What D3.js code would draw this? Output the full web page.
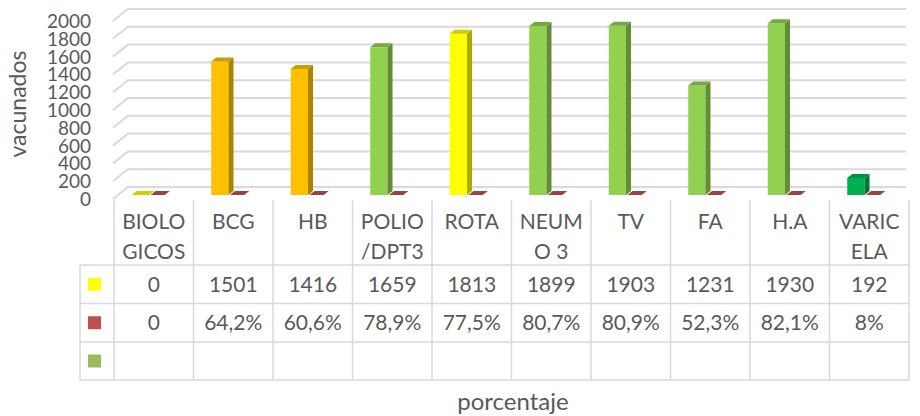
<!DOCTYPE html>
<html>
<head>
<meta charset="utf-8">
<script src="https://cdn.jsdelivr.net/npm/d3@7"></script>
<style>
  body { margin: 0; background: #fff; }
  svg { display: block; font-family: Lato, "Open Sans", sans-serif; }
</style>
</head>
<body>
<svg width="920" height="416"></svg>
<script>
// data
const categories = ['BIOLOGICOS', 'BCG', 'HB', 'POLIO/DPT3', 'ROTA', 'NEUMO 3', 'TV', 'FA', 'H.A', 'VARICELA'];
const headerLines = [['BIOLO', 'GICOS'], ['BCG'], ['HB'], ['POLIO', '/DPT3'], ['ROTA'], ['NEUM', 'O 3'], ['TV'], ['FA'], ['H.A'], ['VARIC', 'ELA']];
const vacunados = [0, 1501, 1416, 1659, 1813, 1899, 1903, 1231, 1930, 192];
const porcentaje = [0, 64.2, 60.6, 78.9, 77.5, 80.7, 80.9, 52.3, 82.1, 8];
const yTicks = [0, 200, 400, 600, 800, 1000, 1200, 1400, 1600, 1800, 2000];
const barColors = ['#FFFF00', '#FFC000', '#FFC000', '#92D050', '#FFFF00', '#92D050', '#92D050', '#92D050', '#92D050', '#00B050'];
const seriesKeys = ['vac', 'pct', 'empty'];
const keyColors = ['#FFFF00', '#C0504D', '#9BBB59'];

const svg = d3.select('svg');
const textColor = '#595959';
const gridColor = '#d9d9d9';

// layout
const tableLeft = 80, cellLeft = 114, tableRight = 909;
const rowY = [200, 265, 303.5, 342, 380];
const floorY = 195;
const dx = 5, dy = -4;

const xScale = d3.scaleBand()
    .domain(categories)
    .range([cellLeft, tableRight]);

const subScale = d3.scaleBand()
    .domain(['vac', 'pct'])
    .range([-22, 14])
    .paddingInner(0.08);

const yScale = d3.scaleLinear()
    .domain([0, 2000])
    .range([floorY, 17]);

// 3D gridlines (side wall + back wall)
const grid = svg.append('g');
yTicks.forEach(t => {
    const y = yScale(t);
    grid.append('polyline')
        .attr('points', `113,${y + 4} 128,${y - 8} 906,${y - 8}`)
        .attr('fill', 'none')
        .attr('stroke', gridColor)
        .attr('stroke-width', 2);
});

// y tick labels
svg.append('g').selectAll('text')
    .data(yTicks)
    .enter().append('text')
    .attr('x', 91)
    .attr('y', d => yScale(d) + 11)
    .attr('text-anchor', 'end')
    .attr('fill', textColor)
    .style('font-size', '19px')
    .text(d => d);

// y axis title
svg.append('text')
    .attr('transform', 'translate(26,104) rotate(-90)')
    .attr('text-anchor', 'middle')
    .attr('fill', textColor)
    .style('font-size', '23px')
    .text('vacunados');

// bars
const shade = (c, k) => d3.color(c).darker(k).formatHex();
const drawBar = (g, x0, w, v, color) => {
    const y1 = yScale(v);
    g.append('rect')
        .attr('x', x0).attr('y', y1)
        .attr('width', w).attr('height', floorY - y1)
        .attr('fill', color);
    g.append('polygon')
        .attr('points', `${x0 + w},${y1} ${x0 + w + dx},${y1 + dy} ${x0 + w + dx},${floorY + dy} ${x0 + w},${floorY}`)
        .attr('fill', shade(color, 1.1));
    g.append('polygon')
        .attr('points', `${x0},${y1} ${x0 + dx},${y1 + dy} ${x0 + w + dx},${y1 + dy} ${x0 + w},${y1}`)
        .attr('fill', shade(color, 0.6));
};

const bars = svg.append('g');
categories.forEach((c, i) => {
    const cx = xScale(c) + xScale.bandwidth() / 2;
    drawBar(bars, cx + subScale('pct'), subScale.bandwidth() - 3, porcentaje[i] / 100, keyColors[1]);
    drawBar(bars, cx + subScale('vac'), subScale.bandwidth(), vacunados[i], barColors[i]);
});

// data table
const table = svg.append('g')
    .attr('stroke', gridColor)
    .attr('stroke-width', 1.5);

rowY.slice(1).forEach(y => {
    table.append('line')
        .attr('x1', tableLeft).attr('x2', tableRight)
        .attr('y1', y).attr('y2', y);
});
table.append('line')
    .attr('x1', tableLeft).attr('x2', tableLeft)
    .attr('y1', rowY[1]).attr('y2', rowY[4]);
categories.forEach(c => {
    table.append('line')
        .attr('x1', xScale(c)).attr('x2', xScale(c))
        .attr('y1', rowY[0]).attr('y2', rowY[4]);
});
table.append('line')
    .attr('x1', tableRight).attr('x2', tableRight)
    .attr('y1', rowY[0]).attr('y2', rowY[4]);

// header labels
const header = svg.append('g')
    .attr('fill', textColor)
    .attr('text-anchor', 'middle')
    .style('font-size', '21px');
categories.forEach((c, i) => {
    headerLines[i].forEach((line, j) => {
        header.append('text')
            .attr('x', xScale(c) + xScale.bandwidth() / 2)
            .attr('y', 229 + j * 30)
            .text(line);
    });
});

// legend keys
svg.append('g').selectAll('rect')
    .data(seriesKeys)
    .enter().append('rect')
    .attr('x', 88)
    .attr('y', (d, i) => (rowY[i + 1] + rowY[i + 2]) / 2 - 6.5)
    .attr('width', 13)
    .attr('height', 13)
    .attr('fill', (d, i) => keyColors[i]);

// values
const fmtPct = v => v === 0 ? '0' : String(v).replace('.', ',') + '%';
const rows = [vacunados.map(String), porcentaje.map(fmtPct)];
const cells = svg.append('g')
    .attr('fill', textColor)
    .attr('text-anchor', 'middle')
    .style('font-size', '21px');
rows.forEach((row, r) => {
    row.forEach((txt, i) => {
        cells.append('text')
            .attr('x', xScale(categories[i]) + xScale.bandwidth() / 2)
            .attr('y', (rowY[r + 1] + rowY[r + 2]) / 2 + 7.5)
            .text(txt);
    });
});

// x axis title
svg.append('text')
    .attr('x', 513)
    .attr('y', 410)
    .attr('text-anchor', 'middle')
    .attr('fill', textColor)
    .style('font-size', '24px')
    .text('porcentaje');
</script>
</body>
</html>
